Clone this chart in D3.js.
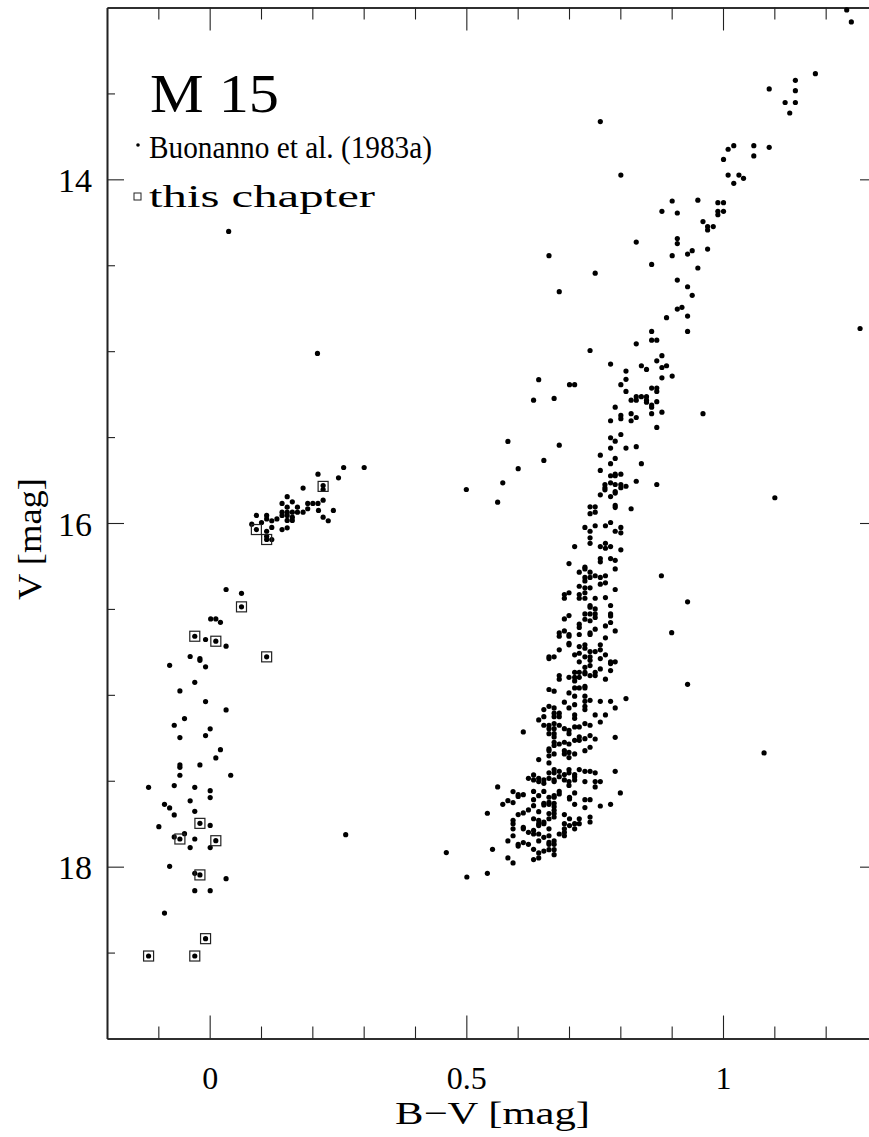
<!DOCTYPE html>
<html><head><meta charset="utf-8">
<script src="https://cdn.jsdelivr.net/npm/d3@7"></script>
<style>body{margin:0;background:#fff} svg{display:block}</style>
</head><body><svg id="c" width="869" height="1137"></svg>
<script>
// ---- data: [B-V, V] ----
const hbStars = [[0.261,15.677],[0.301,15.677],[0.211,15.716],[0.251,15.737],[0.221,15.782],[0.221,15.805],[0.182,15.797],[0.151,15.847],[0.141,15.886],[0.161,15.877],[0.191,15.886],[0.201,15.886],[0.211,15.886],[0.221,15.867],[0.151,15.908],[0.171,15.908],[0.191,15.917],[0.141,15.937],[0.151,15.937],[0.161,15.937],[0.171,15.937],[0.182,15.937],[0.212,15.927],[0.241,15.927],[0.141,15.956],[0.151,15.956],[0.161,15.966],[0.091,15.956],[0.111,15.956],[0.111,15.976],[0.121,15.987],[0.131,15.976],[0.151,15.985],[0.161,15.985],[0.221,15.966],[0.231,15.987],[0.082,16.007],[0.101,15.997],[0.121,16.026],[0.091,16.038],[0.111,16.048],[0.141,16.038],[0.151,16.028],[0.111,16.077],[0.121,16.096],[0.111,16.096],
[0.037,14.303],[0.210,15.013],[0.265,17.814]];

const blueStars = [[0.032,16.387],[0.062,16.409],[0.062,16.488],[0.002,16.558],[0.012,16.558],[0.021,16.578],[-0.029,16.659],[-0.008,16.678],[0.012,16.688],[0.032,16.717],[0.111,16.779],[-0.038,16.777],[-0.019,16.789],[-0.019,16.799],[-0.078,16.828],[-0.008,16.837],[-0.029,16.927],[-0.058,16.977],
[-0.008,17.039],[0.032,17.088],[-0.049,17.138],[-0.069,17.177],[0.001,17.198],[-0.058,17.249],[-0.008,17.237],[0.021,17.319],[0.012,17.367],[-0.058,17.408],[-0.058,17.422],[-0.019,17.408],[-0.058,17.468],[0.041,17.468],[-0.119,17.538],[-0.069,17.528],[-0.029,17.538],[0.001,17.558],[0.001,17.598],[-0.038,17.617],[-0.088,17.637],[-0.078,17.658],[-0.029,17.678],[-0.069,17.699],[-0.019,17.748],[0.001,17.760],[-0.099,17.767],[-0.049,17.808],[-0.069,17.827],[-0.058,17.839],[-0.029,17.839],[0.012,17.849],[-0.038,17.889],[0.001,17.889],[-0.078,17.998],[-0.029,18.039],[-0.019,18.048],[0.032,18.070],[-0.029,18.140],[0.001,18.140],[-0.088,18.270],[-0.008,18.419],[-0.119,18.520],[-0.029,18.520]];

const giantStars = [[1.241,13.014],[1.250,13.084],[1.180,13.385],[1.141,13.424],[1.090,13.474],[1.141,13.484],[1.121,13.553],[1.141,13.553],[1.130,13.614],[0.761,13.664],[1.021,13.804],[1.060,13.804],[1.090,13.814],[1.010,13.825],[1.060,13.864],[1.001,13.884],[0.801,13.975],[1.010,13.975],[1.031,13.975],[1.040,13.994],[1.021,14.023],
[0.901,14.126],[0.951,14.121],[0.990,14.136],[1.001,14.136],[0.881,14.186],[0.911,14.196],[0.990,14.186],[0.990,14.206],[1.001,14.186],[0.961,14.246],[0.970,14.275],[0.981,14.275],[0.970,14.295],[0.831,14.365],[0.911,14.345],[0.911,14.374],[0.661,14.444],[0.901,14.444],[0.931,14.435],[0.940,14.415],[0.970,14.406],[0.861,14.495],[0.951,14.516],[0.751,14.546],[0.681,14.654],[0.911,14.586],[0.931,14.625],[0.940,14.675],[0.911,14.755],[0.920,14.745],[0.931,14.796],[0.890,14.805],[0.931,14.885],[0.861,14.885],[0.861,14.936],[0.871,14.936],[0.831,14.957],[0.741,14.996],[1.267,14.868],
[0.781,15.075],[0.881,15.026],[0.871,15.056],[0.841,15.085],[0.851,15.106],[0.881,15.095],[0.890,15.085],[0.811,15.116],[0.811,15.164],[0.881,15.155],[0.901,15.145],[0.641,15.166],[0.701,15.195],[0.711,15.195],[0.801,15.195],[0.861,15.215],[0.871,15.215],[0.871,15.234],[0.811,15.234],[0.631,15.285],[0.671,15.275],[0.821,15.285],[0.831,15.265],[0.831,15.285],[0.841,15.265],[0.851,15.265],[0.851,15.285],[0.851,15.297],[0.861,15.314],[0.861,15.326],[0.871,15.294],[0.790,15.326],[0.961,15.364],[0.801,15.374],[0.801,15.393],[0.821,15.364],[0.831,15.386],[0.861,15.364],[0.881,15.355],[0.781,15.405],[0.821,15.405],[0.871,15.444],[0.801,15.485],[0.781,15.504],[0.790,15.524],[0.581,15.525],[0.681,15.547],[0.781,15.564],[0.811,15.564],[0.831,15.556],[0.761,15.605],[0.790,15.624],[0.651,15.636],[0.781,15.655],[0.841,15.655],[0.601,15.684],[0.761,15.694],[0.781,15.725],[0.790,15.716],[0.801,15.716],[0.790,15.725],[0.571,15.766],[0.770,15.776],[0.781,15.766],[0.790,15.776],[0.801,15.776],[0.811,15.786],[0.801,15.795],[0.770,15.795],[0.770,15.807],[0.831,15.757],[0.871,15.776],[0.790,15.817],[0.790,15.826],[0.761,15.836],[0.781,15.846],[1.101,15.853],[0.500,15.805]];

const subgiantStars = [[0.561,15.879],[0.741,15.906],[0.751,15.906],[0.741,15.946],[0.751,15.937],[0.790,15.898],[0.790,15.910],[0.821,15.917],[0.781,15.997],[0.731,16.026],[0.751,16.016],[0.771,16.016],[0.741,16.048],[0.790,16.048],[0.801,16.026],[0.801,16.057],[0.741,16.086],[0.741,16.118],[0.711,16.137],[0.761,16.137],[0.771,16.118],[0.771,16.147],[0.781,16.137],[0.801,16.156],[0.761,16.207],[0.761,16.226],[0.781,16.207],[0.790,16.217],[0.700,16.236],[0.731,16.257],[0.731,16.267],[0.790,16.267],[0.720,16.286],[0.741,16.286],[0.731,16.317],[0.731,16.337],[0.741,16.317],[0.751,16.307],[0.761,16.317],[0.771,16.307],[0.880,16.307],[0.771,16.348],[0.761,16.356],[0.720,16.368],[0.731,16.377],[0.741,16.377],[0.790,16.387],[0.691,16.416],[0.700,16.406],[0.720,16.416],[0.731,16.406],[0.691,16.438],[0.720,16.438],[0.731,16.438],[0.751,16.438],[0.771,16.434],
[0.741,16.480],[0.741,16.490],[0.781,16.480],[0.751,16.500],[0.731,16.529],[0.741,16.529],[0.751,16.529],[0.751,16.550],[0.781,16.529],[0.781,16.541],[0.700,16.539],[0.691,16.558],[0.731,16.560],[0.741,16.569],[0.720,16.589],[0.720,16.608],[0.781,16.579],[0.771,16.599],[0.751,16.618],[0.790,16.628],[0.691,16.628],[0.681,16.640],[0.681,16.659],[0.700,16.649],[0.700,16.659],[0.720,16.649],[0.741,16.640],[0.741,16.649],[0.771,16.668],[0.900,16.638],[0.931,16.459],[0.700,16.700],[0.700,16.709],[0.720,16.719],[0.731,16.709],[0.731,16.729],[0.761,16.709],[0.681,16.738],[0.741,16.748],[0.751,16.748],[0.761,16.738],[0.771,16.767],[0.711,16.767],[0.720,16.758],[0.731,16.779],[0.741,16.779],[0.741,16.799],[0.661,16.779],[0.661,16.789],[0.671,16.779],[0.761,16.789],[0.720,16.808],[0.781,16.808],[0.781,16.818],[0.790,16.808],[0.741,16.830],[0.731,16.840],[0.761,16.849],[0.781,16.859],[0.711,16.869],[0.720,16.869],[0.731,16.869],[0.731,16.878],[0.751,16.869],[0.751,16.888],[0.681,16.888],[0.681,16.909],[0.700,16.898],[0.711,16.898],[0.711,16.919],[0.720,16.898],[0.741,16.888],[0.771,16.909],[0.931,16.939],[0.661,16.969],[0.671,16.979],[0.711,16.960],[0.720,16.960],[0.731,16.950],[0.731,16.960],[0.700,16.989],[0.711,17.008],[0.731,17.008],[0.811,17.022]];

const turnoffStars = [[0.691,17.043],[0.711,17.057],[0.731,17.038],[0.731,17.067],[0.731,17.086],[0.741,17.032],[0.761,17.038],[0.781,17.038],[0.661,17.067],[0.671,17.076],[0.651,17.086],[0.700,17.076],[0.790,17.076],[0.671,17.107],[0.681,17.107],[0.651,17.127],[0.671,17.127],[0.681,17.127],[0.711,17.117],[0.711,17.137],[0.751,17.117],[0.771,17.117],[0.641,17.146],[0.761,17.158],[0.651,17.177],[0.661,17.177],[0.671,17.167],[0.681,17.177],[0.661,17.197],[0.671,17.197],[0.691,17.197],[0.700,17.206],[0.700,17.226],[0.711,17.187],[0.720,17.187],[0.731,17.167],[0.741,17.177],[0.611,17.216],[0.661,17.226],[0.671,17.226],[0.671,17.245],[0.720,17.245],[0.731,17.255],[0.720,17.265],[0.741,17.237],[0.751,17.257],[0.711,17.265],[0.790,17.247],[0.671,17.276],[0.681,17.286],[0.691,17.276],[0.700,17.286],[0.671,17.295],[0.741,17.305],[0.731,17.325],[0.661,17.315],[0.661,17.325],[0.691,17.325],[0.691,17.344],[0.700,17.335],[0.711,17.344],[0.671,17.344],[0.661,17.355],[0.700,17.365],[0.641,17.377],[0.661,17.396],[1.080,17.338],
[0.671,17.435],[0.681,17.445],[0.661,17.454],[0.671,17.454],[0.700,17.435],[0.700,17.454],[0.711,17.464],[0.691,17.464],[0.720,17.435],[0.731,17.445],[0.741,17.445],[0.751,17.454],[0.790,17.445],[0.631,17.466],[0.621,17.486],[0.631,17.495],[0.641,17.486],[0.641,17.505],[0.651,17.495],[0.651,17.515],[0.661,17.486],[0.671,17.495],[0.671,17.505],[0.681,17.476],[0.691,17.495],[0.700,17.505],[0.711,17.495],[0.711,17.476],[0.731,17.505],[0.751,17.505],[0.761,17.505],[0.751,17.536],[0.561,17.536],[0.700,17.527],
[0.591,17.563],[0.601,17.581],[0.601,17.591],[0.611,17.581],[0.631,17.562],[0.641,17.587],[0.651,17.562],[0.661,17.596],[0.661,17.626],[0.671,17.587],[0.671,17.596],[0.681,17.577],[0.681,17.562],[0.701,17.596],[0.701,17.606],[0.711,17.571],[0.731,17.610],[0.741,17.610],[0.761,17.647],[0.781,17.637],[0.800,17.571],[0.571,17.637],[0.581,17.616],[0.591,17.627],[0.631,17.610],[0.631,17.645],[0.651,17.631],[0.651,17.641],[0.661,17.637],[0.671,17.631],[0.671,17.651],[0.671,17.672],[0.671,17.691],[0.671,17.711],[0.641,17.680],[0.711,17.637],[0.731,17.656],[0.541,17.689],[0.601,17.697],[0.611,17.687],[0.621,17.670],[0.631,17.721],[0.641,17.730],[0.651,17.740],[0.661,17.691],[0.661,17.721],[0.691,17.697],[0.720,17.721],[0.741,17.711],[0.741,17.740],[0.701,17.721],[0.591,17.730],[0.591,17.750],[0.591,17.780],[0.641,17.750],[0.641,17.761],[0.651,17.750],[0.611,17.771],[0.611,17.780],[0.621,17.800],[0.631,17.789],[0.631,17.810],[0.641,17.810],[0.691,17.750],[0.691,17.780],[0.701,17.761],[0.711,17.750],[0.711,17.780],[0.720,17.750],[0.681,17.810],[0.691,17.800],[0.691,17.820],[0.661,17.780],[0.661,17.820],[0.591,17.820],[0.581,17.850],[0.601,17.870],[0.601,17.880],[0.611,17.860],[0.621,17.870],[0.641,17.850],[0.651,17.829],[0.661,17.859],[0.661,17.870],[0.671,17.850],[0.671,17.870],[0.671,17.901],[0.671,17.930],[0.661,17.901],[0.651,17.909],[0.631,17.899],[0.641,17.920],[0.641,17.949],[0.631,17.959],[0.551,17.899],[0.461,17.918],[0.581,17.949],[0.591,17.978],[0.541,18.039],[0.501,18.060]];

// this chapter (boxed)
const chapterStars = [[0.221,15.787],[0.091,16.038],[0.111,16.096],[0.062,16.488],[-0.029,16.659],[0.012,16.688],[0.111,16.779],[-0.019,17.748],[-0.058,17.839],[0.012,17.849],[-0.019,18.048],[-0.008,18.419],[-0.119,18.520],[-0.029,18.520]];

const xMajorTicks = [0, 0.5, 1];
const xMinorTicks = [-0.1, 0.1, 0.2, 0.3, 0.4, 0.6, 0.7, 0.8, 0.9, 1.1, 1.2];
const yMajorTicks = [14, 16, 18];
const yMinorTicks = [13.5, 14.5, 15, 15.5, 16.5, 17, 17.5, 18.5];
const xLabels = ["0", "0.5", "1"];
const yLabels = ["14", "16", "18"];

// ---- drawing ----
const svg = d3.select("#c");
const FONT = "'Liberation Serif', 'DejaVu Serif', serif";
const L = 107, R = 877, T = 7.5, B = 1038.5;
const x = d3.scaleLinear().domain([-0.2, 1.3]).range([L, R]);
const y = d3.scaleLinear().domain([13, 19]).range([T, B]);

svg.append("rect").attr("width", 869).attr("height", 1137).attr("fill", "#fff");

const axisColor = "#222";
function styleAxis(g) {
  g.selectAll("path.domain").attr("stroke", axisColor).attr("stroke-width", 1.6);
  g.selectAll(".tick line").attr("stroke", axisColor).attr("stroke-width", 1.1);
  g.selectAll("text").attr("font-family", FONT).attr("fill", "#000");
}
const XMAJ = 23, XMIN = 12, YMAJ = 17, YMIN = 8;
// bottom
svg.append("g").attr("transform", `translate(0,${B})`)
  .call(d3.axisBottom(x).tickValues(xMajorTicks).tickSizeInner(-XMAJ).tickSizeOuter(0)
    .tickPadding(50).tickFormat((d, i) => xLabels[i]))
  .call(styleAxis).call(g => g.selectAll("text").attr("font-size", 32).attr("dy", 0));
svg.append("g").attr("transform", `translate(0,${B})`)
  .call(d3.axisBottom(x).tickValues(xMinorTicks).tickSizeInner(-XMIN).tickSizeOuter(0).tickFormat(""))
  .call(styleAxis);
// top
svg.append("g").attr("transform", `translate(0,${T})`)
  .call(d3.axisTop(x).tickValues(xMajorTicks).tickSizeInner(-XMAJ).tickSizeOuter(0).tickFormat(""))
  .call(styleAxis);
svg.append("g").attr("transform", `translate(0,${T})`)
  .call(d3.axisTop(x).tickValues(xMinorTicks).tickSizeInner(-XMIN).tickSizeOuter(0).tickFormat(""))
  .call(styleAxis);
// left
svg.append("g").attr("transform", `translate(${L},0)`)
  .call(d3.axisLeft(y).tickValues(yMajorTicks).tickSizeInner(-YMAJ).tickSizeOuter(0)
    .tickPadding(15).tickFormat((d, i) => yLabels[i]))
  .call(styleAxis).call(g => g.selectAll("text").attr("font-size", 34).attr("dy", "0.36em"));
svg.append("g").attr("transform", `translate(${L},0)`)
  .call(d3.axisLeft(y).tickValues(yMinorTicks).tickSizeInner(-YMIN).tickSizeOuter(0).tickFormat(""))
  .call(styleAxis);
// right
svg.append("g").attr("transform", `translate(${R},0)`)
  .call(d3.axisRight(y).tickValues(yMajorTicks).tickSizeInner(-YMAJ).tickSizeOuter(0).tickFormat(""))
  .call(styleAxis);
svg.append("g").attr("transform", `translate(${R},0)`)
  .call(d3.axisRight(y).tickValues(yMinorTicks).tickSizeInner(-YMIN).tickSizeOuter(0).tickFormat(""))
  .call(styleAxis);

// axis titles
svg.append("text").attr("x", 395).attr("y", 1124).attr("font-family", FONT).attr("font-size", 32)
  .attr("textLength", 195).attr("lengthAdjust", "spacingAndGlyphs").text("B\u2212V [mag]");
svg.append("text").attr("transform", "translate(41,600) rotate(-90)").attr("font-family", FONT)
  .attr("font-size", 34).attr("textLength", 122).attr("lengthAdjust", "spacingAndGlyphs").text("V [mag]");

// points
const allDots = [].concat(hbStars, blueStars, giantStars, subgiantStars, turnoffStars);
svg.append("g").selectAll("circle").data(allDots).join("circle")
  .attr("cx", d => x(d[0])).attr("cy", d => y(d[1])).attr("r", 2.6).attr("fill", "#000");
const BOX = 10;
svg.append("g").selectAll("rect").data(chapterStars).join("rect")
  .attr("x", d => x(d[0]) - BOX / 2).attr("y", d => y(d[1]) - BOX / 2)
  .attr("width", BOX).attr("height", BOX).attr("fill", "none").attr("stroke", "#222").attr("stroke-width", 1.2);

// legend
svg.append("text").attr("x", 150).attr("y", 112).attr("font-family", FONT).attr("font-size", 54)
  .attr("textLength", 129).attr("lengthAdjust", "spacingAndGlyphs").text("M 15");
svg.append("circle").attr("cx", 138).attr("cy", 145).attr("r", 1.8).attr("fill", "#000");
svg.append("text").attr("x", 149).attr("y", 158).attr("font-family", FONT).attr("font-size", 32)
  .attr("textLength", 283).attr("lengthAdjust", "spacingAndGlyphs").text("Buonanno et al. (1983a)");
svg.append("rect").attr("x", 134).attr("y", 193).attr("width", 7).attr("height", 7)
  .attr("fill", "none").attr("stroke", "#222").attr("stroke-width", 1);
svg.append("text").attr("x", 149).attr("y", 207).attr("font-family", FONT).attr("font-size", 32)
  .attr("textLength", 226).attr("lengthAdjust", "spacingAndGlyphs").text("this chapter");
</script></body></html>
